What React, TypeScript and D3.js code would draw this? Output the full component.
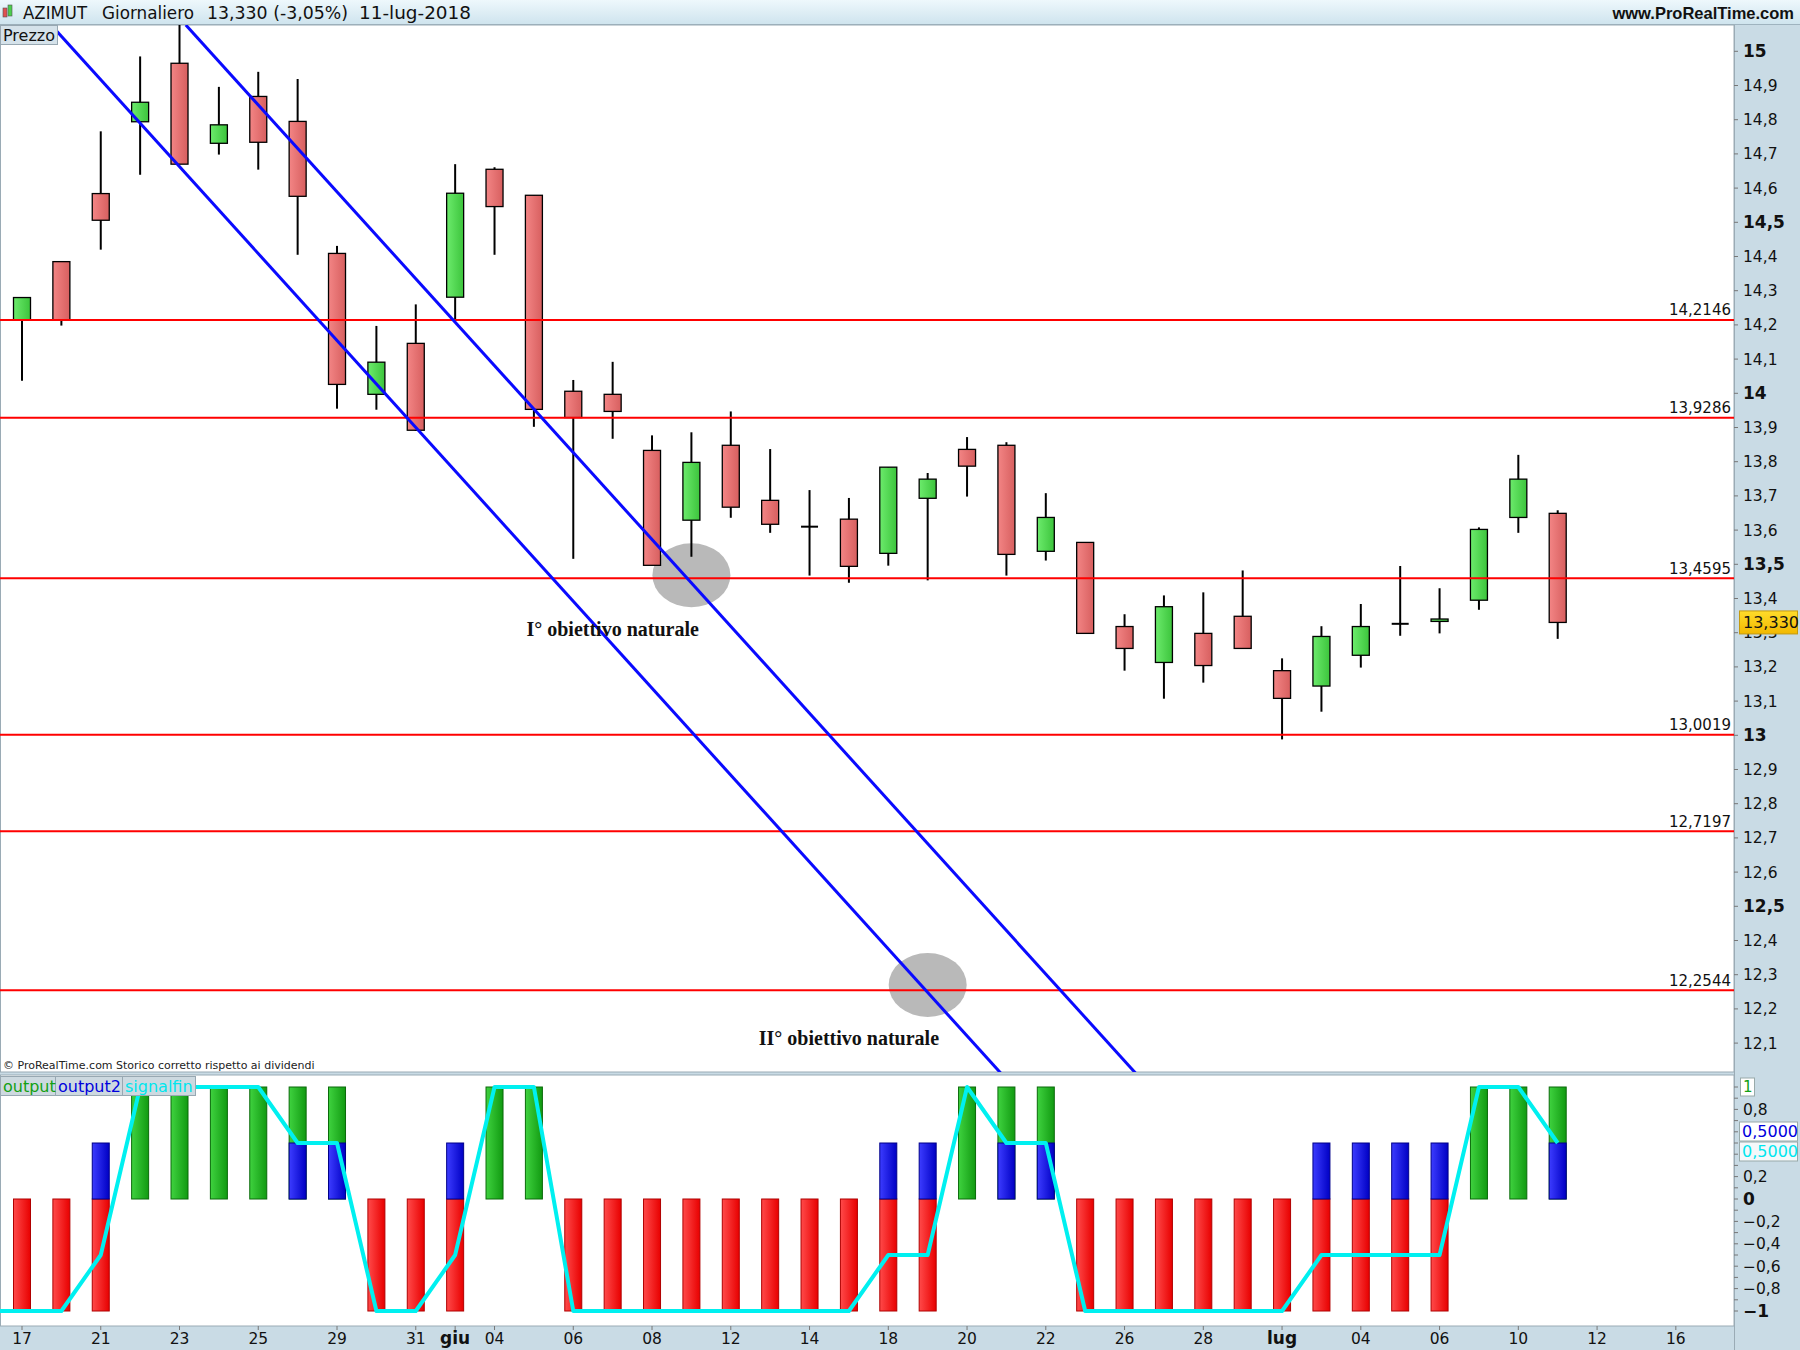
import React from "react";
import * as d3 from "d3";

// AZIMUT daily candles, 17-mag-2018 .. 11-lug-2018
const days = [
  "17", "18", "21", "22", "23", "24", "25", "28", "29", "30", "31", "01", "04", "05", "06", "07", "08", "11", "12", "13",
  "14", "15", "18", "19", "20", "21", "22", "25", "26", "27", "28", "29", "02", "03", "04", "05", "06", "09", "10", "11",
];
const open = [
  14.215, 14.385, 14.584, 14.794, 14.965, 14.731, 14.868, 14.795, 14.409, 13.997,
  14.146, 14.281, 14.655, 14.579, 14.006, 13.997, 13.833, 13.629, 13.848, 13.687,
  13.61, 13.632, 13.532, 13.693, 13.836, 13.848, 13.538, 13.564, 13.318, 13.213,
  13.298, 13.348, 13.189, 13.144, 13.234, 13.326, 13.333, 13.395, 13.637, 13.649,
];
const high = [
  14.28, 14.385, 14.766, 14.985, 15.08, 14.896, 14.94, 14.919, 14.431, 14.197,
  14.26, 14.67, 14.661, 14.579, 14.039, 14.092, 13.877, 13.886, 13.947, 13.837,
  13.717, 13.694, 13.784, 13.767, 13.872, 13.857, 13.708, 13.564, 13.354, 13.409,
  13.418, 13.482, 13.225, 13.319, 13.384, 13.495, 13.43, 13.608, 13.82, 13.658,
];
const low = [
  14.037, 14.198, 14.42, 14.639, 14.67, 14.698, 14.654, 14.405, 13.955, 13.952,
  13.89, 14.212, 14.405, 13.902, 13.516, 13.867, 13.497, 13.522, 13.636, 13.592,
  13.467, 13.446, 13.496, 13.453, 13.698, 13.467, 13.511, 13.298, 13.189, 13.107,
  13.154, 13.254, 12.988, 13.069, 13.198, 13.291, 13.298, 13.367, 13.592, 13.282,
];
const close = [
  14.28, 14.215, 14.506, 14.851, 14.67, 14.785, 14.734, 14.576, 14.026, 14.091,
  13.892, 14.585, 14.546, 13.953, 13.929, 13.947, 13.497, 13.798, 13.667, 13.617,
  13.61, 13.494, 13.784, 13.749, 13.787, 13.529, 13.637, 13.298, 13.254, 13.376,
  13.204, 13.254, 13.108, 13.289, 13.318, 13.326, 13.34, 13.602, 13.749, 13.33,
];

// support / resistance levels
const levels = [14.2146, 13.9286, 13.4595, 13.0019, 12.7197, 12.2544];

// descending channel (bar index, price)
const channelLow = [[0.74, 15.077], [25.0, 11.994]];
const channelHigh = [[4.16, 15.077], [28.4, 11.997]];

// targets: bar index, price, label bar, label price
const targets = [
  { i: 17, p: 13.468, ti: 15, tp: 13.29, text: "I° obiettivo naturale" },
  { i: 23, p: 12.27, ti: 21, tp: 12.094, text: "II° obiettivo naturale" },
];

// indicator
const output = [
  -1, -1, -1, 1, 1, 1, 1, 1, 1, -1, -1, -1, 1, 1, -1, -1, -1, -1, -1, -1,
  -1, -1, -1, -1, 1, 1, 1, -1, -1, -1, -1, -1, -1, -1, -1, -1, -1, 1, 1, 1,
];
const output2 = [
  0, 0, 0.5, 0, 0, 0, 0, 0.5, 0.5, 0, 0, 0.5, 0, 0, 0, 0, 0, 0, 0, 0,
  0, 0, 0.5, 0.5, 0, 0.5, 0.5, 0, 0, 0, 0, 0, 0, 0.5, 0.5, 0.5, 0.5, 0, 0, 0.5,
];
// first value belongs to the bar before 17 May
const signalfin = [
  -1, -1, -1, -0.5, 1, 1, 1, 1, 0.5, 0.5, -1, -1, -0.5, 1, 1, -1, -1, -1, -1, -1, -1,
  -1, -1, -0.5, -0.5, 1, 0.5, 0.5, -1, -1, -1, -1, -1, -1, -0.5, -0.5, -0.5, -0.5, 1, 1, 0.5,
];

const xTickPos = [0, 2, 4, 6, 8, 10, 11, 12, 14, 16, 18, 20, 22, 24, 26, 28, 30, 32, 34, 36, 38, 40, 42];
const xTickText = ["17", "21", "23", "25", "29", "31", "giu", "04", "06", "08", "12", "14", "18", "20", "22", "26", "28", "lug", "04", "06", "10", "12", "16"];

const priceTicks = d3.range(121, 151).map((v) => v / 10);
const indTicks = d3.range(-10, 11).map((v) => v / 10);
const indLabels = [0.8, 0.2, 0, -0.2, -0.4, -0.6, -0.8, -1];

const W = 1800;
const H = 1350;
const plotR = 1734;
const pTop = 25;
const pBot = 1072;
const iTop = 1075;
const iBot = 1326;
const AX = "#c9dbe5";
const FONT = "DejaVu Sans, sans-serif";

const comma = (v: number, d?: number) =>
  (d === undefined ? String(v) : v.toFixed(d)).replace(".", ",").replace("-", "−");

const App = () => {
  const x = d3.scaleLinear().domain([0, 39]).range([22, 1557.7]);
  const yP = d3.scaleLinear().domain([13, 15]).range([735.3, 51.3]);
  const yI = d3.scaleLinear().domain([-1, 1]).range([1311, 1087]);
  const bw = 17;
  const line = d3.line<number[]>().x((d) => x(d[0])).y((d) => yP(d[1]));
  const sigLine = d3
    .line<number>()
    .x((_, k) => x(k - 1))
    .y((d) => yI(d));
  const last = close[close.length - 1];

  return (
    <svg width={W} height={H} style={{ position: "absolute", left: 0, top: 0 }} fontFamily={FONT}>
      <defs>
        <linearGradient id="hdr" x1="0" y1="0" x2="0" y2="1">
          <stop offset="0%" stopColor="#eef8fc" />
          <stop offset="100%" stopColor="#cfe4ee" />
        </linearGradient>
        <linearGradient id="cRed" x1="0" y1="0" x2="1" y2="0">
          <stop offset="0%" stopColor="#f38585" />
          <stop offset="100%" stopColor="#d75f5f" />
        </linearGradient>
        <linearGradient id="cGreen" x1="0" y1="0" x2="1" y2="0">
          <stop offset="0%" stopColor="#6ceb6c" />
          <stop offset="100%" stopColor="#3cc43c" />
        </linearGradient>
        <linearGradient id="bRed" x1="0" y1="0" x2="1" y2="0">
          <stop offset="0%" stopColor="#ff4a4a" />
          <stop offset="100%" stopColor="#e80000" />
        </linearGradient>
        <linearGradient id="bGreen" x1="0" y1="0" x2="1" y2="0">
          <stop offset="0%" stopColor="#3fd23f" />
          <stop offset="100%" stopColor="#119a11" />
        </linearGradient>
        <linearGradient id="bBlue" x1="0" y1="0" x2="1" y2="0">
          <stop offset="0%" stopColor="#3c3cff" />
          <stop offset="100%" stopColor="#0000c4" />
        </linearGradient>
        <linearGradient id="yel" x1="0" y1="0" x2="0" y2="1">
          <stop offset="0%" stopColor="#ffdc2a" />
          <stop offset="100%" stopColor="#f2b800" />
        </linearGradient>
        <clipPath id="pClip">
          <rect x={0} y={pTop} width={plotR} height={pBot - pTop} />
        </clipPath>
        <clipPath id="iClip">
          <rect x={0} y={iTop} width={plotR} height={iBot - iTop} />
        </clipPath>
      </defs>

      {/* backgrounds */}
      <rect x={0} y={0} width={W} height={H} fill={AX} />
      <rect x={0} y={0} width={W} height={24} fill="url(#hdr)" />
      <line x1={0} x2={W} y1={24.5} y2={24.5} stroke="#9fb3bf" />
      <rect x={0.5} y={pTop} width={plotR - 0.5} height={pBot - pTop} fill="#fff" stroke="#9aabb5" />
      <rect x={0.5} y={iTop} width={plotR - 0.5} height={iBot - iTop} fill="#fff" stroke="#9aabb5" />

      {/* header */}
      <rect x={3} y={8} width={4} height={9} fill="#e05050" stroke="#555" strokeWidth={0.6} />
      <rect x={8} y={5} width={4} height={11} fill="#4ccf4c" stroke="#555" strokeWidth={0.6} />
      <g fontSize={17} fill="#111">
        <text x={23} y={19} textLength={64} lengthAdjust="spacingAndGlyphs">AZIMUT</text>
        <text x={102} y={19} textLength={92} lengthAdjust="spacingAndGlyphs">Giornaliero</text>
        <text x={207} y={19} textLength={141} lengthAdjust="spacingAndGlyphs">13,330 (-3,05%)</text>
        <text x={359} y={19} textLength={112} lengthAdjust="spacingAndGlyphs">11-lug-2018</text>
      </g>
      <text x={1794} y={18.5} textAnchor="end" fontFamily="Liberation Sans, Arial, sans-serif" fontWeight="bold" fontSize={16.5} fill="#111">
        www.ProRealTime.com
      </text>

      {/* price panel */}
      <g clipPath="url(#pClip)">
        {targets.map((t, k) => (
          <ellipse key={k} cx={x(t.i)} cy={yP(t.p)} rx={39} ry={32} fill="#b9b9b9" />
        ))}
        {open.map((o, i) => {
          const c = close[i];
          const cx = x(i);
          const top = yP(Math.max(o, c));
          const bot = yP(Math.min(o, c));
          const doji = Math.abs(o - c) < 0.001;
          return (
            <g key={days[i] + i}>
              <line x1={cx} x2={cx} y1={yP(high[i])} y2={yP(low[i])} stroke="#000" strokeWidth={2} />
              {doji ? (
                <line x1={cx - bw / 2} x2={cx + bw / 2} y1={top} y2={top} stroke="#000" strokeWidth={2} />
              ) : (
                <rect
                  x={cx - bw / 2}
                  y={top}
                  width={bw}
                  height={Math.max(bot - top, 1.5)}
                  fill={c >= o ? "url(#cGreen)" : "url(#cRed)"}
                  stroke="#000"
                  strokeWidth={1.3}
                />
              )}
            </g>
          );
        })}
        {levels.map((v) => (
          <line key={v} x1={0} x2={plotR} y1={yP(v)} y2={yP(v)} stroke="#ff0000" strokeWidth={2} />
        ))}
        {[channelLow, channelHigh].map((l, k) => (
          <path key={k} d={line(l) || ""} fill="none" stroke="#0a0aff" strokeWidth={3} />
        ))}
        {targets.map((t, k) => (
          <text
            key={k}
            x={x(t.ti)}
            y={yP(t.tp)}
            textAnchor="middle"
            fontFamily="Liberation Serif, serif"
            fontWeight="bold"
            fontSize={20}
            fill="#111"
          >
            {t.text}
          </text>
        ))}
      </g>
      {levels.map((v) => (
        <text key={v} x={1731} y={yP(v) - 4.5} textAnchor="end" fontSize={15} fill="#111">
          {comma(v, 4)}
        </text>
      ))}
      <rect x={0.5} y={25.5} width={57} height={19} fill="#d5e2ea" stroke="#98a8b2" />
      <text x={3} y={41} fontSize={16} fill="#111">Prezzo</text>
      <text x={3} y={1069} fontSize={11} fill="#222">© ProRealTime.com  Storico corretto rispetto ai dividendi</text>

      {/* price axis */}
      <line x1={plotR + 0.5} x2={plotR + 0.5} y1={pTop} y2={H} stroke="#9aabb5" />
      {priceTicks.map((v) => {
        const bold = Math.abs(v * 2 - Math.round(v * 2)) < 1e-6;
        return (
          <g key={v}>
            <line x1={plotR} x2={plotR + 4} y1={yP(v)} y2={yP(v)} stroke="#777" />
            <text x={1743} y={yP(v)} dy="0.36em" fontSize={bold ? 17 : 15.5} fontWeight={bold ? "bold" : "normal"} fill="#111">
              {comma(v)}
            </text>
          </g>
        );
      })}
      <rect x={1739.5} y={yP(last) - 11.5} width={58} height={23} fill="url(#yel)" stroke="#c39a10" />
      <text x={1743} y={yP(last)} dy="0.36em" fontSize={16} fill="#111">
        {comma(last, 3)}
      </text>

      {/* indicator panel */}
      <g clipPath="url(#iClip)">
        {output.map((v, i) => (
          <rect
            key={"o" + i}
            x={x(i) - bw / 2}
            y={yI(Math.max(v, 0))}
            width={bw}
            height={Math.abs(yI(v) - yI(0))}
            fill={v > 0 ? "url(#bGreen)" : "url(#bRed)"}
            stroke={v > 0 ? "#0a6a0a" : "#b00000"}
            strokeWidth={1}
          />
        ))}
        {output2.map((v, i) =>
          v > 0 ? (
            <rect
              key={"b" + i}
              x={x(i) - bw / 2}
              y={yI(v)}
              width={bw}
              height={yI(0) - yI(v)}
              fill="url(#bBlue)"
              stroke="#00008a"
              strokeWidth={1}
            />
          ) : null
        )}
        <path d={sigLine(signalfin) || ""} fill="none" stroke="#00f0f0" strokeWidth={4} strokeLinejoin="round" />
      </g>
      <rect x={0.5} y={1076.5} width={55} height={19} fill="#cdd9e0" stroke="#98a8b2" />
      <rect x={55.5} y={1076.5} width={67} height={19} fill="#cdd9e0" stroke="#98a8b2" />
      <rect x={122.5} y={1076.5} width={73} height={19} fill="#cdd9e0" stroke="#98a8b2" />
      <g fontSize={16}>
        <text x={3} y={1092} fill="#13a013">output</text>
        <text x={58} y={1092} fill="#0000dd">output2</text>
        <text x={125} y={1092} fill="#00e6ee">signalfin</text>
      </g>

      {/* indicator axis */}
      {indTicks.map((v) => (
        <line key={v} x1={plotR} x2={plotR + 4} y1={yI(v)} y2={yI(v)} stroke="#777" />
      ))}
      {indLabels.map((v) => {
        const bold = v === 0 || v === -1;
        return (
          <text key={v} x={1743} y={yI(v)} dy="0.36em" fontSize={bold ? 17 : 15.5} fontWeight={bold ? "bold" : "normal"} fill="#111">
            {comma(v)}
          </text>
        );
      })}
      <rect x={1740.5} y={yI(1) - 9} width={14} height={18} fill="#fff" stroke="#9aa" />
      <text x={1743} y={yI(1)} dy="0.36em" fontSize={15} fill="#13a013">1</text>
      <rect x={1739.5} y={yI(0.5) - 21} width={58} height={19} fill="#fff" stroke="#9aa" />
      <text x={1742} y={yI(0.5) - 11.5} dy="0.36em" fontSize={16} fill="#0000dd">
        {comma(output2[output2.length - 1], 4)}
      </text>
      <rect x={1739.5} y={yI(0.5) - 1} width={58} height={19} fill="#f4f8fa" stroke="#9aa" />
      <text x={1742} y={yI(0.5) + 8.5} dy="0.36em" fontSize={16} fill="#00e6ee">
        {comma(signalfin[signalfin.length - 1], 4)}
      </text>

      {/* x axis */}
      {xTickPos.map((p, k) => {
        const bold = xTickText[k] === "giu" || xTickText[k] === "lug";
        return (
          <g key={k}>
            <line x1={x(p)} x2={x(p)} y1={iBot} y2={iBot + 4} stroke="#777" />
            <text
              x={x(p)}
              y={1344}
              textAnchor="middle"
              fontSize={bold ? 17 : 15.5}
              fontWeight={bold ? "bold" : "normal"}
              fill="#111"
            >
              {xTickText[k]}
            </text>
          </g>
        );
      })}
    </svg>
  );
};

export default App;
